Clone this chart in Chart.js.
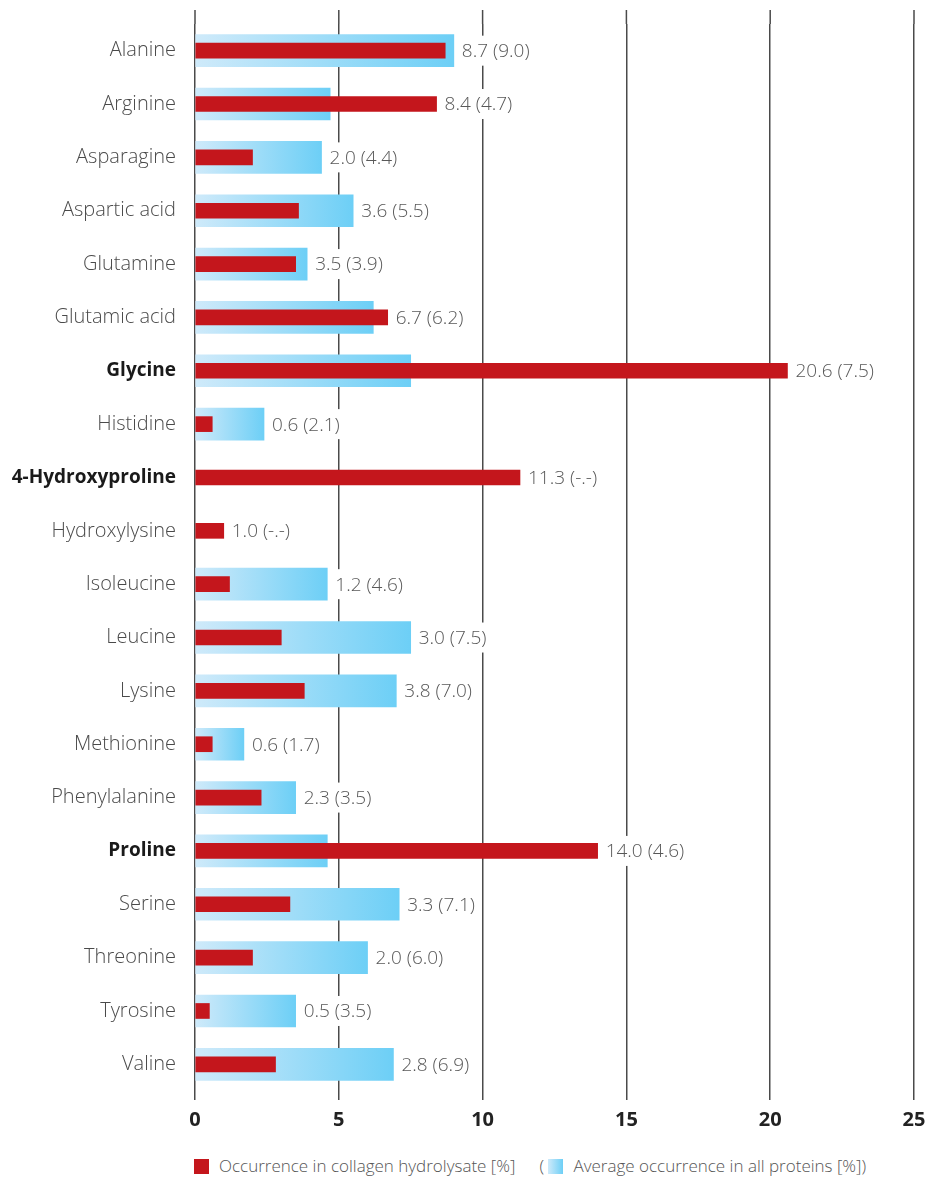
<!DOCTYPE html>
<html lang="en">
<head>
    <meta charset="UTF-8">
    <title>Amino acid occurrence</title>
    <script src="https://cdn.jsdelivr.net/npm/chart.js"></script>
    <style>
        body { margin: 0; background: #fff; font-family: 'Open Sans', sans-serif; }
        .wrap { position: relative; width: 930px; height: 1178px; }
        .legend {
            position: absolute; left: 194px; top: 1154px;
            font-size: 17px; font-weight: 300; color: #555; white-space: nowrap;
        }
        .legend .box { display: inline-block; width: 15px; height: 15px; vertical-align: -2px; margin-right: 10px; }
        .legend .red { background: #c4161c; }
        .legend .blue { background: linear-gradient(to right, #cfeafa, #6dcff6); }
        .legend .gap { display: inline-block; width: 24px; }
    </style>
</head>
<body>
<div class="wrap">
    <canvas id="aminoChart" width="930" height="1140"></canvas>
    <div class="legend">
        <span class="box red"></span>Occurrence in collagen hydrolysate [%]<span class="gap"></span>( <span class="box blue"></span>Average occurrence in all proteins [%])
    </div>
</div>

<script>
    // chart data
    const categories = ['Alanine', 'Arginine', 'Asparagine', 'Aspartic acid', 'Glutamine', 'Glutamic acid',
        'Glycine', 'Histidine', '4-Hydroxyproline', 'Hydroxylysine', 'Isoleucine', 'Leucine', 'Lysine',
        'Methionine', 'Phenylalanine', 'Proline', 'Serine', 'Threonine', 'Tyrosine', 'Valine'];
    const collagen = [8.7, 8.4, 2.0, 3.6, 3.5, 6.7, 20.6, 0.6, 11.3, 1.0, 1.2, 3.0, 3.8, 0.6, 2.3, 14.0, 3.3, 2.0, 0.5, 2.8];
    // blue bar lengths as drawn (Histidine's bar reaches 2.4 in the original)
    const average = [9.0, 4.7, 4.4, 5.5, 3.9, 6.2, 7.5, 2.4, null, null, 4.6, 7.5, 7.0, 1.7, 3.5, 4.6, 7.1, 6.0, 3.5, 6.9];
    // printed values next to the bars
    const barTexts = ['8.7 (9.0)', '8.4 (4.7)', '2.0 (4.4)', '3.6 (5.5)', '3.5 (3.9)', '6.7 (6.2)', '20.6 (7.5)',
        '0.6 (2.1)', '11.3 (-.-)', '1.0 (-.-)', '1.2 (4.6)', '3.0 (7.5)', '3.8 (7.0)', '0.6 (1.7)', '2.3 (3.5)',
        '14.0 (4.6)', '3.3 (7.1)', '2.0 (6.0)', '0.5 (3.5)', '2.8 (6.9)'];
    const boldCategories = ['Glycine', '4-Hydroxyproline', 'Proline'];
    const xMin = 0, xMax = 25, xStep = 5;

    const FONT = "'Open Sans', sans-serif";

    function blueGradient(c) {
        const chart = c.chart;
        const area = chart.chartArea;
        if (!area || c.raw == null) return '#8fd9f7';
        const x0 = chart.scales.x.getPixelForValue(0);
        const x1 = chart.scales.x.getPixelForValue(c.raw);
        const g = chart.ctx.createLinearGradient(x0, 0, x1, 0);
        g.addColorStop(0, '#cfeafa');
        g.addColorStop(1, '#6dcff6');
        return g;
    }

    // grid lines run a little above the first row
    const gridTop = {
        id: 'gridTop',
        beforeDatasetsDraw(chart) {
            const ctx = chart.ctx;
            const x = chart.scales.x;
            ctx.save();
            ctx.strokeStyle = '#4a4a4a';
            ctx.lineWidth = 1.5;
            for (let v = xMin; v <= xMax; v += xStep) {
                const px = x.getPixelForValue(v);
                ctx.beginPath();
                ctx.moveTo(px, 10);
                ctx.lineTo(px, chart.chartArea.top);
                ctx.stroke();
            }
            ctx.restore();
        }
    };

    // value text after the longer bar, on a white patch over the grid
    const valueLabels = {
        id: 'valueLabels',
        afterDatasetsDraw(chart) {
            const ctx = chart.ctx;
            const red = chart.getDatasetMeta(0).data;
            const blue = chart.getDatasetMeta(1).data;
            ctx.save();
            ctx.font = '300 19px ' + FONT;
            ctx.textAlign = 'left';
            ctx.textBaseline = 'middle';
            categories.forEach((name, i) => {
                let end = red[i].x;
                if (average[i] != null) end = Math.max(end, blue[i].x);
                const tx = end + 8;
                const w = ctx.measureText(barTexts[i]).width;
                ctx.fillStyle = '#fff';
                ctx.fillRect(tx - 3, red[i].y - 15, w + 6, 30);
                ctx.fillStyle = '#585858';
                ctx.fillText(barTexts[i], tx, red[i].y + 1);
            });
            ctx.restore();
        }
    };

    const ctx = document.getElementById('aminoChart').getContext('2d');
    const chart = new Chart(ctx, {
        type: 'bar',
        data: {
            labels: categories,
            datasets: [
                {
                    label: 'Occurrence in collagen hydrolysate [%]',
                    data: collagen,
                    backgroundColor: '#c4161c',
                    barThickness: 15,
                    grouped: false
                },
                {
                    label: 'Average occurrence in all proteins [%]',
                    data: average,
                    backgroundColor: blueGradient,
                    barThickness: 32,
                    grouped: false
                }
            ]
        },
        options: {
            indexAxis: 'y',
            responsive: false,
            animation: false,
            devicePixelRatio: 1,
            layout: { padding: { top: 24, right: 16, left: 0, bottom: 0 } },
            plugins: {
                legend: { display: false },
                tooltip: { enabled: false }
            },
            scales: {
                x: {
                    min: xMin,
                    max: xMax,
                    afterFit: s => { s.height = 49; s.paddingLeft = 0; s.paddingRight = 0; },
                    border: { display: false },
                    grid: { color: '#4a4a4a', lineWidth: 1.5, tickLength: 9 },
                    ticks: {
                        stepSize: xStep,
                        padding: 8,
                        color: '#222',
                        font: { family: FONT, weight: 'bold', size: 20 }
                    }
                },
                y: {
                    afterFit: s => { s.width = 195; s.paddingTop = 0; s.paddingBottom = 0; },
                    border: { display: false },
                    grid: { display: false, drawTicks: false },
                    ticks: {
                        padding: 19,
                        color: c => boldCategories.includes(categories[c.index]) ? '#1a1a1a' : '#4a4a4a',
                        font: c => boldCategories.includes(categories[c.index])
                            ? { family: FONT, weight: 'bold', size: 19 }
                            : { family: FONT, weight: '300', size: 20 }
                    }
                }
            }
        },
        plugins: [gridTop, valueLabels]
    });
</script>
</body>
</html>
